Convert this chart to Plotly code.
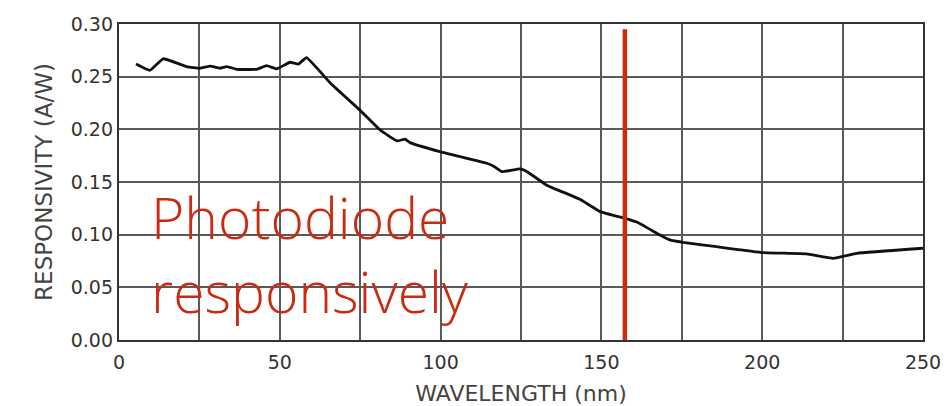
import plotly.graph_objects as go

wavelength_nm = [5.3, 9.6, 13.7, 21.0, 25.2, 28.3, 31.4, 33.5, 36.6, 42.8, 45.9, 49.0, 53.2, 55.8, 58.3,
                 66.0, 75.0, 81.2, 86.4, 88.9, 90.5, 99.8, 114.3, 116.4, 119.0, 124.7, 126.8, 133.0,
                 143.3, 149.6, 157.3, 161.0, 168.2, 171.3, 175.4, 185.8, 200.3, 213.8, 222.1, 229.4, 250.0]
responsivity = [0.262, 0.256, 0.267, 0.2596, 0.258, 0.260, 0.258, 0.2596, 0.257, 0.257, 0.2605, 0.2574, 0.2637, 0.262, 0.268,
                0.243, 0.218, 0.1994, 0.189, 0.1906, 0.1874, 0.1788, 0.1678, 0.1652, 0.1598, 0.1624, 0.160, 0.147,
                0.1336, 0.1219, 0.1155, 0.112, 0.0997, 0.095, 0.0927, 0.0886, 0.083, 0.0817, 0.0775, 0.0823, 0.0871]

marker_x = [157.3, 157.3]
marker_y = [0.0, 0.295]

x_tickvals = [0, 25, 50, 75, 100, 125, 150, 175, 200, 225, 250]
x_ticktext = ["0", "", "50", "", "100", "", "150", "", "200", "", "250"]
y_tickvals = [0.00, 0.05, 0.10, 0.15, 0.20, 0.25, 0.30]
y_ticktext = ["0.00", "0.05", "0.10", "0.15", "0.20", "0.25", "0.30"]

annotation_text = "Photodiode<br>responsively"
annotation_x = 9.4
annotation_y = 0.156

red = "#cc2a10"
grid = "#5a5a5a"

fig = go.Figure()
fig.add_trace(go.Scatter(x=wavelength_nm, y=responsivity, mode="lines",
                         line=dict(color="#111111", width=2.8, shape="spline", smoothing=0.3),
                         showlegend=False, hoverinfo="skip"))
fig.add_trace(go.Scatter(x=marker_x, y=marker_y, mode="lines",
                         line=dict(color=red, width=4.5),
                         showlegend=False, hoverinfo="skip"))

fig.add_annotation(x=annotation_x, y=annotation_y, xref="x", yref="y",
                   text=annotation_text, showarrow=False, xanchor="left", yanchor="top",
                   align="left",
                   font=dict(family="Open Sans, Roboto, sans-serif", size=57, color=red, weight=300))

tick_font = dict(family="DejaVu Sans, sans-serif", size=19, color="#333333")
title_font_x = dict(family="DejaVu Sans, sans-serif", size=22, color="#444444")
title_font_y = dict(family="DejaVu Sans, sans-serif", size=23, color="#444444")

fig.update_xaxes(range=[0, 250], tickvals=x_tickvals, ticktext=x_ticktext,
                 showgrid=True, gridcolor=grid, gridwidth=1.6,
                 showline=True, linecolor="#333333", linewidth=2.4, mirror=True,
                 zeroline=False, ticks="", tickfont=tick_font, ticklabelstandoff=4,
                 automargin=False,
                 title=dict(text="WAVELENGTH (nm)", font=title_font_x, standoff=18))
fig.update_yaxes(range=[0, 0.30], tickvals=y_tickvals, ticktext=y_ticktext,
                 showgrid=True, gridcolor=grid, gridwidth=1.6,
                 showline=True, linecolor="#333333", linewidth=2.4, mirror=True,
                 zeroline=False, ticks="", tickfont=tick_font,
                 automargin=False,
                 title=dict(text="RESPONSIVITY (A/W)", font=title_font_y, standoff=12))

fig.update_layout(width=952, height=406, margin=dict(l=119, r=29, t=24, b=66),
                  plot_bgcolor="white", paper_bgcolor="white")

fig.write_html("out.html")
